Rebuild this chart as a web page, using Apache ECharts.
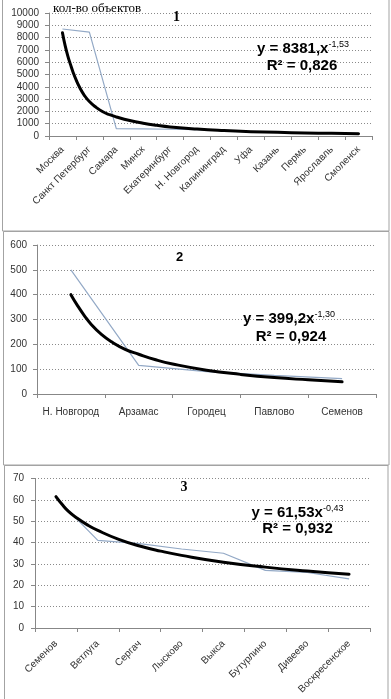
<!DOCTYPE html>
<html>
<head>
<meta charset="utf-8">
<script src="https://cdn.jsdelivr.net/npm/echarts@6/dist/echarts.min.js"></script>
<style>
html,body{margin:0;padding:0;background:#fff;}
#c{width:391px;height:699px;}
</style>
</head>
<body>
<div id="c"></div>
<script>
// ---- Chart 1 ----
const cats1 = ['Москва','Санкт Петербург','Самара','Минск','Екатеринбург','Н. Новгород','Калининград','Уфа','Казань','Пермь','Ярославль','Смоленск'];
const vals1 = [8700, 8450, 600, 580, 550, 520, 430, 340, 300, 260, 230, 190];
const trendX1 = [1, 1.1, 1.2, 1.3, 1.4, 1.5, 1.65, 1.8, 2, 2.25, 2.5, 2.75, 3, 3.5, 4, 4.5, 5, 6, 7, 8, 9, 10, 11, 12];
const trendY1 = [8400, 7350, 6500, 5800, 5150, 4600, 3900, 3350, 2800, 2330, 1970, 1730, 1550, 1260, 1040, 870, 735, 560, 440, 355, 295, 250, 215, 190];
// ---- Chart 2 ----
const cats2 = ['Н. Новгород','Арзамас','Городец','Павлово','Семенов'];
const vals2 = [500, 115, 90, 75, 62];
const trendX2 = [1, 1.1, 1.2, 1.3, 1.45, 1.6, 1.8, 2, 2.25, 2.5, 3, 3.5, 4, 4.5, 5];
const trendY2 = [400, 355, 315, 280, 240, 210, 180, 160, 138, 121, 96, 79, 66, 57, 49];
// ---- Chart 3 ----
const cats3 = ['Семенов','Ветлуга','Сергач','Лысково','Выкса','Бутурлино','Дивеево','Воскресенское'];
const vals3 = [61, 41, 39.5, 37, 35, 27, 26, 23];
const trendX3 = [1, 1.15, 1.3, 1.5, 1.75, 2, 2.5, 3, 3.5, 4, 5, 6, 7, 8];
const trendY3 = [61.5, 57.8, 54.6, 51.5, 48.3, 45.7, 41.5, 38.4, 36, 34, 30.8, 28.5, 26.7, 25.2];

const FONT = "'Liberation Sans', Arial, sans-serif";
const SERIF = "'Liberation Serif', 'Times New Roman', serif";
const AXIS_COLOR = '#878787';
const LABEL_COLOR = '#333';
const THIN_COLOR = '#93a9c6';

function catAxis(g, cats, rotate, margin) {
  return {
    type: 'category', gridIndex: g, data: cats, boundaryGap: true,
    axisLine: {show: true, lineStyle: {color: AXIS_COLOR, width: 1}},
    axisTick: {show: true, length: 4, alignWithLabel: false, interval: 0, lineStyle: {color: AXIS_COLOR}},
    axisLabel: {interval: 0, rotate: rotate, margin: margin, fontSize: 10, fontFamily: FONT, color: LABEL_COLOR},
    splitLine: {show: false}
  };
}
function valXAxis(g, n) {
  return {type: 'value', gridIndex: g, min: 0.5, max: n + 0.5, show: false};
}
function yAx(g, max, interval, margin) {
  return {
    type: 'value', gridIndex: g, min: 0, max: max, interval: interval,
    axisLine: {show: true, lineStyle: {color: AXIS_COLOR, width: 1}},
    axisTick: {show: true, length: 4, lineStyle: {color: AXIS_COLOR}},
    axisLabel: {margin: margin, fontSize: 10, fontFamily: FONT, color: LABEL_COLOR,
      formatter: function (v) { return String(v); }},
    splitLine: {show: true, lineStyle: {type: [1, 2], color: '#8a8a8a', width: 1}}
  };
}
function pairs(xs, ys) { return xs.map((x, i) => [x, ys[i]]); }
function thin(g, vals) {
  return {type: 'line', xAxisIndex: 2 * g, yAxisIndex: g, data: vals, symbol: 'none',
    lineStyle: {color: THIN_COLOR, width: 1.2}, z: 2};
}
function trend(g, xs, ys) {
  return {type: 'line', xAxisIndex: 2 * g + 1, yAxisIndex: g, data: pairs(xs, ys), symbol: 'none',
    smooth: 0.5, lineStyle: {color: '#000', width: 3, cap: 'round', join: 'round'}, z: 3};
}
function border(x, y, w, h) {
  return {type: 'rect', shape: {x: x, y: y, width: w, height: h}, silent: true,
    style: {fill: 'none', stroke: '#a3a3a3', lineWidth: 1}, z: 10};
}
function txt(x, y, text, font, align) {
  return {type: 'text', x: x, y: y, silent: true, z: 20,
    style: {text: text, font: font, fill: '#000', textAlign: align || 'center', textVerticalAlign: 'middle'}};
}
function eq(x, y, main, sup) {
  return {type: 'text', x: x, y: y, silent: true, z: 20,
    style: {text: '{a|' + main + '}{b|' + sup + '}', textAlign: 'center', textVerticalAlign: 'middle',
      rich: {
        a: {font: 'bold 15px ' + FONT, fill: '#000', lineHeight: 17},
        b: {font: '9px ' + FONT, fill: '#000', verticalAlign: 'top', lineHeight: 10}
      }}};
}

const option = {
  animation: false,
  backgroundColor: '#fff',
  grid: [
    {left: 49, top: 13, width: 323, height: 123},
    {left: 37, top: 245, width: 339, height: 149},
    {left: 35, top: 478.5, width: 335, height: 149.5}
  ],
  xAxis: [
    catAxis(0, cats1, 45, 12), valXAxis(0, cats1.length),
    catAxis(1, cats2, 0, 13), valXAxis(1, cats2.length),
    catAxis(2, cats3, 45, 14), valXAxis(2, cats3.length)
  ],
  yAxis: [yAx(0, 10000, 1000, 10), yAx(1, 600, 100, 10), yAx(2, 70, 10, 11)],
  series: [
    thin(0, vals1), trend(0, trendX1, trendY1),
    thin(1, vals2), trend(1, trendX2, trendY2),
    thin(2, vals3), trend(2, trendX3, trendY3)
  ],
  graphic: [
    border(2.5, -1, 386.5, 232),
    border(3.5, 231.5, 385.5, 233.5),
    border(4.5, 465.5, 383.5, 240),
    txt(53, 9, 'кол-во объектов', '13px ' + SERIF, 'left'),
    txt(176.5, 17, '1', 'bold 14px ' + SERIF),
    txt(179.5, 257, '2', 'bold 13px ' + FONT),
    txt(184, 487.5, '3', 'bold 14px ' + SERIF),
    eq(303, 49, 'y = 8381,x', '-1,53'),
    txt(302, 66, 'R² = 0,826', 'bold 15px ' + FONT),
    eq(289, 319, 'y = 399,2x', '-1,30'),
    txt(291, 337, 'R² = 0,924', 'bold 15px ' + FONT),
    eq(297.5, 513, 'y = 61,53x', '-0,43'),
    txt(297.5, 529, 'R² = 0,932', 'bold 15px ' + FONT)
  ]
};
const chart = echarts.init(document.getElementById('c'), null, {renderer: 'canvas'});
chart.setOption(option);
</script>
</body>
</html>
